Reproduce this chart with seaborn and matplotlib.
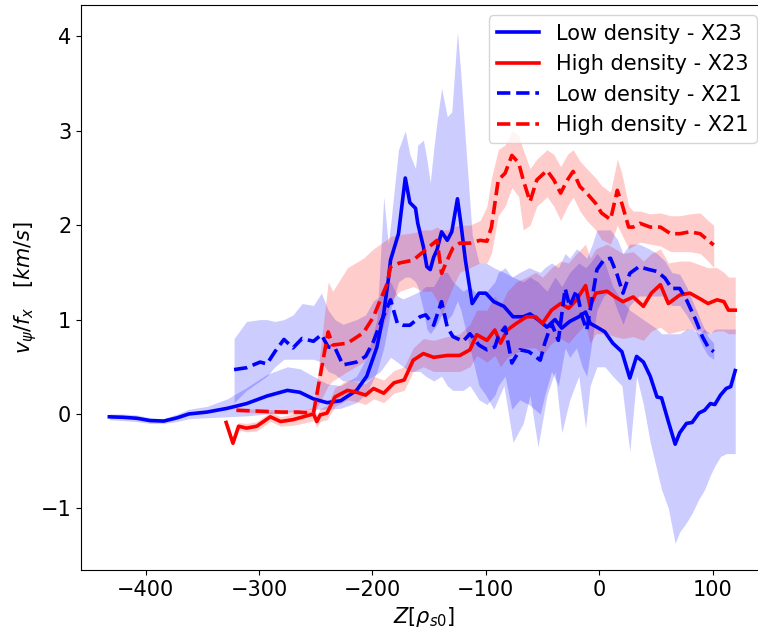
import matplotlib
matplotlib.use("Agg")
import matplotlib.pyplot as plt
import seaborn as sns
import pandas as pd

# ---------------- data ----------------
# Low density - X23 (blue solid)
lx23_z = [-432, -420, -408, -396, -384, -372, -362, -346, -328, -311, -293, -275, -264, -252, -240, -228,
          -214, -205, -196, -190, -186, -184, -177, -171, -167, -162, -160, -155, -152, -149, -146, -143,
          -139, -134, -130, -125, -122, -118, -112, -106, -100, -93, -84, -76, -67, -61, -54, -46, -39,
          -33, -26, -18, -12, -8, -2, 5, 12, 20, 27, 33, 39, 45, 51, 55, 61, 67, 71, 77, 82, 88, 93, 98,
          102, 107, 112, 116, 120]
lx23_v = [-0.03, -0.035, -0.045, -0.07, -0.075, -0.04, 0.0, 0.02, 0.06, 0.11, 0.19, 0.25, 0.23, 0.16, 0.12, 0.14,
          0.25, 0.40, 0.71, 1.07, 1.42, 1.63, 1.91, 2.50, 2.24, 2.18, 2.02, 1.77, 1.56, 1.53, 1.66, 1.74,
          1.93, 1.84, 1.93, 2.28, 2.02, 1.63, 1.17, 1.28, 1.28, 1.19, 1.14, 1.03, 1.03, 1.06, 1.00, 0.92, 1.00,
          0.91, 0.98, 1.03, 1.08, 0.96, 0.92, 0.87, 0.75, 0.66, 0.38, 0.61, 0.55, 0.40, 0.18, 0.17, -0.08, -0.32,
          -0.20, -0.10, -0.09, 0.01, 0.04, 0.11, 0.10, 0.20, 0.27, 0.29, 0.46]
lx23_lo = [-0.06, -0.07, -0.08, -0.10, -0.10, -0.08, -0.05, -0.04, -0.03, -0.02, 0.00, 0.02, 0.04, 0.05, 0.05, 0.06,
           0.12, 0.22, 0.45, 0.70, 0.95, 1.10, 1.40, 1.45, 1.45, 1.40, 1.35, 1.10, 0.90, 0.85, 0.90, 0.95,
           1.05, 1.00, 1.05, 1.20, 1.10, 0.90, 0.60, 0.30, 0.20, 0.05, 0.30, -0.30, -0.10, 0.20, -0.35, 0.20, 0.45,
           -0.20, 0.15, 0.40, -0.15, 0.30, 0.50, 0.50, 0.40, 0.30, -0.40, 0.40, 0.10, -0.30, -0.60, -0.80, -1.00, -1.37,
           -1.25, -1.15, -1.05, -0.90, -0.80, -0.65, -0.55, -0.45, -0.42, -0.42, -0.42]
lx23_hi = [0.00, 0.00, -0.01, -0.04, -0.05, 0.00, 0.05, 0.08, 0.16, 0.28, 0.42, 0.50, 0.48, 0.40, 0.32, 0.30,
           0.40, 0.60, 1.00, 2.30, 1.80, 2.00, 2.80, 3.00, 2.75, 2.60, 2.85, 2.90, 2.70, 2.45, 2.80, 3.10,
           3.45, 3.15, 3.20, 4.05, 3.60, 2.90, 1.90, 1.60, 1.60, 1.55, 1.50, 1.45, 1.40, 1.45, 1.40, 1.30, 1.45,
           1.35, 1.50, 1.60, 1.55, 1.60, 1.70, 1.60, 1.35, 1.20, 1.10, 1.05, 1.00, 0.95, 0.90, 0.85, 0.85, 0.85,
           0.85, 0.90, 0.90, 0.85, 0.90, 0.85, 0.90, 0.90, 0.90, 0.90, 0.90]

# High density - X23 (red solid)
hx23_z = [-329, -323, -318, -311, -302, -290, -281, -270, -258, -252, -249, -246, -240, -233, -222, -214,
          -206, -199, -190, -181, -172, -164, -155, -146, -134, -123, -114, -108, -99, -92, -87, -81, -73,
          -64, -56, -50, -42, -34, -27, -20, -12, -8, -3, 7, 14, 21, 30, 39, 46, 54, 61, 71, 80, 89, 96,
          104, 110, 114, 120]
hx23_v = [-0.09, -0.31, -0.13, -0.15, -0.13, -0.03, -0.08, -0.06, -0.02, 0.0, -0.08, -0.01, 0.01, 0.18, 0.25, 0.23,
          0.20, 0.27, 0.22, 0.33, 0.36, 0.57, 0.64, 0.60, 0.62, 0.62, 0.68, 0.84, 0.78, 0.89, 0.75, 0.89, 0.96,
          1.03, 1.03, 0.96, 1.10, 1.17, 1.12, 1.21, 1.36, 1.14, 1.28, 1.30, 1.24, 1.19, 1.24, 1.14, 1.28, 1.37,
          1.17, 1.26, 1.28, 1.22, 1.17, 1.21, 1.19, 1.10, 1.10]
hx23_lo = [-0.12, -0.34, -0.17, -0.19, -0.18, -0.08, -0.13, -0.12, -0.09, -0.07, -0.14, -0.08, -0.06, 0.08, 0.15, 0.13,
           0.10, 0.16, 0.12, 0.22, 0.25, 0.45, 0.50, 0.45, 0.45, 0.45, 0.50, 0.62, 0.55, 0.62, 0.50, 0.60, 0.65,
           0.70, 0.70, 0.62, 0.75, 0.80, 0.75, 0.85, 0.95, 0.75, 0.85, 0.85, 0.82, 0.80, 0.82, 0.78, 0.88, 0.92,
           0.85, 0.88, 0.90, 0.88, 0.85, 0.88, 0.88, 0.85, 0.85]
hx23_hi = [-0.05, -0.27, -0.09, -0.10, -0.08, 0.02, -0.03, 0.00, 0.05, 0.07, -0.01, 0.06, 0.09, 0.28, 0.36, 0.34,
           0.32, 0.40, 0.36, 0.46, 0.50, 0.70, 0.80, 0.78, 0.82, 0.85, 0.95, 1.10, 1.10, 1.25, 1.15, 1.30, 1.40,
           1.45, 1.50, 1.45, 1.55, 1.62, 1.60, 1.70, 1.80, 1.65, 1.75, 1.80, 1.75, 1.70, 1.72, 1.62, 1.70, 1.75,
           1.60, 1.62, 1.62, 1.58, 1.55, 1.55, 1.50, 1.45, 1.45]

# Low density - X21 (blue dashed)
lx21_z = [-322, -311, -299, -293, -286, -278, -270, -262, -252, -245, -239, -233, -226, -214, -206, -199,
          -193, -184, -178, -173, -167, -158, -153, -146, -139, -134, -129, -120, -114, -106, -99, -92, -89,
          -83, -77, -70, -62, -52, -48, -42, -36, -30, -26, -20, -15, -11, -6, -2, 4, 10, 16, 21, 27, 35,
          44, 51, 58, 64, 71, 77, 85, 91, 96, 101]
lx21_v = [0.47, 0.49, 0.55, 0.53, 0.66, 0.79, 0.70, 0.80, 0.77, 0.84, 0.71, 0.70, 0.52, 0.55, 0.61, 0.77,
          0.96, 1.21, 0.96, 0.94, 0.94, 1.03, 1.05, 0.94, 1.19, 0.92, 0.82, 0.77, 0.85, 0.73, 0.68, 0.71, 0.82,
          0.92, 0.54, 0.68, 0.66, 0.57, 0.75, 0.96, 0.78, 1.33, 1.14, 1.31, 1.03, 0.89, 1.24, 1.53, 1.63, 1.65,
          1.47, 1.28, 1.49, 1.56, 1.53, 1.51, 1.44, 1.33, 1.33, 1.21, 1.00, 0.82, 0.71, 0.66]
lx21_lo = [0.12, 0.25, 0.35, 0.40, 0.50, 0.58, 0.58, 0.58, 0.58, 0.55, 0.45, 0.42, 0.35, 0.35, 0.35, 0.40,
           0.45, 0.60, 0.55, 0.50, 0.45, 0.45, 0.40, 0.35, 0.40, 0.30, 0.25, 0.25, 0.30, 0.15, 0.10, 0.20, 0.30,
           0.40, 0.05, 0.15, 0.10, 0.00, 0.20, 0.45, 0.30, 0.70, 0.60, 0.70, 0.50, 0.40, 0.80, 1.10, 1.25, 1.30,
           1.10, 0.95, 1.15, 1.25, 1.25, 1.25, 1.25, 1.15, 1.15, 1.05, 0.88, 0.72, 0.62, 0.58]
lx21_hi = [0.80, 0.98, 1.00, 1.00, 0.98, 1.00, 1.05, 1.17, 1.15, 1.28, 1.10, 1.00, 0.95, 1.00, 1.05, 1.20,
           1.25, 1.40, 1.25, 1.22, 1.25, 1.30, 1.35, 1.35, 1.50, 1.50, 1.40, 1.30, 1.35, 1.25, 1.30, 1.40, 1.50,
           1.55, 1.45, 1.50, 1.55, 1.50, 1.55, 1.60, 1.55, 1.70, 1.65, 1.75, 1.70, 1.65, 1.80, 1.95, 1.95, 1.95,
           1.85, 1.70, 1.80, 1.80, 1.75, 1.70, 1.62, 1.50, 1.48, 1.35, 1.12, 0.95, 0.82, 0.75]

# High density - X21 (red dashed)
hx21_z = [-320, -300, -280, -265, -252, -239, -235, -222, -208, -199, -193, -187, -184, -176, -164, -155,
          -148, -143, -139, -134, -129, -123, -114, -105, -99, -95, -89, -83, -77, -71, -67, -61, -55, -46,
          -40, -34, -28, -23, -17, -11, -3, 2, 10, 16, 20, 26, 30, 36, 45, 54, 63, 71, 80, 89, 96, 101]
hx21_v = [0.04, 0.03, 0.02, 0.02, 0.01, 0.87, 0.73, 0.75, 0.86, 1.03, 1.21, 1.38, 1.56, 1.60, 1.63, 1.72,
          1.79, 1.84, 1.49, 1.63, 1.76, 1.81, 1.81, 1.84, 1.83, 1.98, 2.48, 2.55, 2.74, 2.66, 2.48, 2.25, 2.48, 2.58,
          2.48, 2.34, 2.48, 2.57, 2.41, 2.34, 2.23, 2.13, 2.06, 2.37, 2.23, 1.98, 1.98, 2.02, 1.98, 1.98, 1.91,
          1.91, 1.93, 1.91, 1.84, 1.79]
hx21_lo = [0.02, 0.01, 0.00, 0.00, -0.01, 0.30, 0.35, 0.45, 0.55, 0.70, 0.85, 1.05, 1.20, 1.30, 1.35, 1.30,
           1.30, 1.20, 1.05, 1.20, 1.35, 1.50, 1.55, 1.60, 1.60, 1.70, 2.10, 2.20, 2.40, 2.30, 1.95, 2.00, 2.20, 2.30,
           2.20, 2.05, 2.20, 2.30, 2.15, 2.05, 1.95, 1.85, 1.80, 2.00, 1.90, 1.75, 1.78, 1.82, 1.80, 1.78, 1.72,
           1.72, 1.72, 1.70, 1.62, 1.55]
hx21_hi = [0.06, 0.05, 0.04, 0.04, 0.03, 1.40, 1.30, 1.55, 1.65, 1.75, 1.80, 1.85, 1.88, 1.90, 1.92, 1.95,
           1.95, 1.98, 1.95, 1.95, 1.98, 2.00, 2.00, 2.05, 2.20, 2.50, 2.80, 2.85, 3.00, 2.95, 2.80, 2.60, 2.70, 2.80,
           2.75, 2.62, 2.75, 2.80, 2.68, 2.60, 2.50, 2.42, 2.35, 2.70, 2.55, 2.20, 2.15, 2.15, 2.12, 2.13, 2.10,
           2.10, 2.12, 2.13, 2.05, 2.00]

series = [
    ("Low density - X23", lx23_z, lx23_v, lx23_lo, lx23_hi, "blue", "-"),
    ("High density - X23", hx23_z, hx23_v, hx23_lo, hx23_hi, "red", "-"),
    ("Low density - X21", lx21_z, lx21_v, lx21_lo, lx21_hi, "blue", "--"),
    ("High density - X21", hx21_z, hx21_v, hx21_lo, hx21_hi, "red", "--"),
]

# ---------------- plot ----------------
fig = plt.figure(figsize=(7.58, 6.29), dpi=100)
ax = fig.add_axes([81 / 758, 59 / 629, 686 / 758, 565 / 629])

for label, z, v, lo, hi, col, ls in series:
    df = pd.DataFrame({"z": z, "v": v, "lo": lo, "hi": hi})
    ax.fill_between(df["z"], df["lo"], df["hi"], color=col, alpha=0.2, linewidth=0)
    sns.lineplot(data=df, x="z", y="v", color=col, linestyle=ls, linewidth=2.6,
                 label=label, ax=ax, sort=False)

ax.set_xlim(-457, 148)
ax.set_ylim(-1.653, 4.333)
ax.set_xticks([-400, -300, -200, -100, 0, 100])
ax.set_yticks([-1, 0, 1, 2, 3, 4])
ax.tick_params(labelsize=15)
ax.set_xlabel(r"$Z[\rho_{s0}]$", fontsize=15)
ax.set_ylabel(r"$v_\psi/f_x$   $[km/s]$", fontsize=15, labelpad=1)
ax.legend(loc="upper right", fontsize=15)

fig.savefig("out.png", dpi=100)
